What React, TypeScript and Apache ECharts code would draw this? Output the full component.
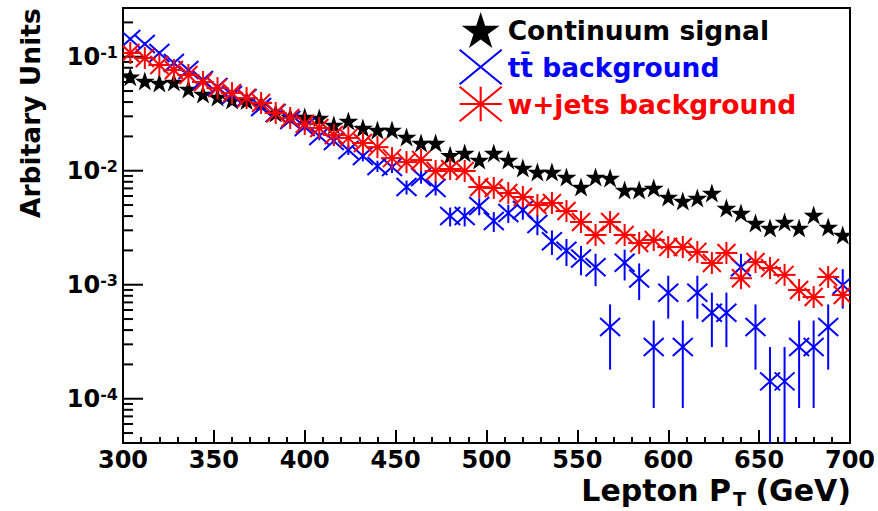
import React, { useEffect, useRef } from 'react';
import * as echarts from 'echarts';

// ---------- data ----------
const binCenters = [304, 312, 320, 328, 336, 344, 352, 360, 368, 376, 384, 392, 400, 408, 416, 424, 432, 440, 448, 456, 464, 472, 480, 488, 496, 504, 512, 520, 528, 536, 544, 552, 560, 568, 576, 584, 592, 600, 608, 616, 624, 632, 640, 648, 656, 664, 672, 680, 688, 696];

const continuumSignal = [0.0668, 0.0612, 0.0588, 0.0600, 0.0521, 0.0471, 0.0443, 0.0417, 0.0412, 0.0385, 0.0321, 0.0296, 0.0296, 0.0290, 0.0252, 0.0273, 0.0237, 0.0228, 0.0228, 0.0198, 0.0175, 0.0175, 0.0137, 0.0143, 0.0124, 0.0143, 0.0124, 0.01056, 0.00974, 0.00974, 0.00881, 0.00719, 0.00881, 0.00863, 0.00677, 0.00677, 0.00705, 0.00588, 0.00542, 0.00576, 0.00637, 0.00471, 0.00425, 0.00348, 0.00314, 0.00355, 0.00314, 0.00409, 0.00321, 0.00273];

const ttbarBackground = [0.1429, 0.1293, 0.1078, 0.0881, 0.0764, 0.0625, 0.0542, 0.0461, 0.0434, 0.0362, 0.0321, 0.0278, 0.0242, 0.0202, 0.0182, 0.0152, 0.01346, 0.0110, 0.01078, 0.00719, 0.00881, 0.00705, 0.00400, 0.00400, 0.00490, 0.00362, 0.00425, 0.00452, 0.00341, 0.00241, 0.00199, 0.00170, 0.00142, 0.000426, 0.00156, 0.001136, 0.000284, 0.000852, 0.000284, 0.000852, 0.000568, 0.000568, 0.00142, 0.000426, 0.000142, 0.000142, 0.000284, 0.000284, 0.000426, 0.000994];

const ttbarError = [0.00450, 0.00428, 0.00391, 0.00354, 0.00329, 0.00298, 0.00277, 0.00256, 0.00248, 0.00227, 0.00213, 0.00199, 0.00185, 0.00169, 0.00161, 0.00147, 0.00138, 0.00125, 0.00124, 0.00101, 0.00112, 0.00100, 0.000754, 0.000754, 0.000834, 0.000717, 0.000777, 0.000801, 0.000696, 0.000585, 0.000532, 0.000491, 0.000449, 0.000246, 0.000471, 0.000402, 0.000201, 0.000348, 0.000201, 0.000348, 0.000284, 0.000284, 0.000449, 0.000246, 0.000142, 0.000142, 0.000201, 0.000201, 0.000246, 0.000376];

const wjetsBackground = [0.1078, 0.0974, 0.0846, 0.0764, 0.0691, 0.0600, 0.0531, 0.0480, 0.0434, 0.0393, 0.0321, 0.0290, 0.0257, 0.0237, 0.0206, 0.0194, 0.0175, 0.0161, 0.0129, 0.0119, 0.0124, 0.00994, 0.01035, 0.00994, 0.00719, 0.00705, 0.00637, 0.00588, 0.00500, 0.00521, 0.00443, 0.00355, 0.00273, 0.00355, 0.00273, 0.00232, 0.00247, 0.00214, 0.00214, 0.00194, 0.00155, 0.00190, 0.00114, 0.00158, 0.00140, 0.00122, 0.000899, 0.000780, 0.00117, 0.000812];

const seriesNames = ['Continuum signal', 'tt\u0304 background', 'w+jets background'];
const xTickLabels = ['300', '350', '400', '450', '500', '550', '600', '650', '700'];
const yDecades = [-5, -4, -3, -2, -1];
const yMinorMultipliers = [2, 3, 4, 5, 6, 7, 8, 9];

const X_MIN = 300;
const X_MAX = 700;
const Y_MIN = 4.09e-5;
const Y_MAX = 0.2675;

const FONT = 'DejaVu Sans';
const BLUE = '#0000ff';
const RED = '#ff0000';
const BLACK = '#000000';

// ---------- marker geometry ----------
function starPoints(cx: number, cy: number, R: number): number[][] {
  const pts: number[][] = [];
  for (let k = 0; k < 10; k++) {
    const r = k % 2 === 0 ? R : R * 0.382;
    const a = -Math.PI / 2 + (k * Math.PI) / 5;
    pts.push([cx + r * Math.cos(a), cy + r * Math.sin(a)]);
  }
  return pts;
}
function seg(x1: number, y1: number, x2: number, y2: number, t: number): string {
  const dx = x2 - x1, dy = y2 - y1;
  const len = Math.sqrt(dx * dx + dy * dy);
  const nx = (-dy / len) * (t / 2), ny = (dx / len) * (t / 2);
  const f = (v: number) => v.toFixed(2);
  return `M${f(x1 + nx)},${f(y1 + ny)}L${f(x2 + nx)},${f(y2 + ny)}L${f(x2 - nx)},${f(y2 - ny)}L${f(x1 - nx)},${f(y1 - ny)}Z`;
}
const STAR_ICON = 'path://' + starPoints(21, 21, 21).map((p, i) => (i === 0 ? 'M' : 'L') + p[0].toFixed(2) + ',' + p[1].toFixed(2)).join('') + 'Z';
const X_ICON = 'path://' + seg(0, 0, 44, 36, 2.2) + seg(0, 36, 44, 0, 2.2);
const AST_ICON = 'path://' + seg(0, 0, 44, 36, 2.2) + seg(0, 36, 44, 0, 2.2) + seg(0, 18, 44, 18, 2.2) + seg(22, 0, 22, 36, 2.2);

function buildOption() {
  const yTicks: number[][] = [];
  yDecades.forEach((n) => {
    const base = Math.pow(10, n);
    if (base >= Y_MIN && base <= Y_MAX) yTicks.push([X_MIN, base, 1]);
    yMinorMultipliers.forEach((m) => {
      const v = m * base;
      if (v >= Y_MIN && v <= Y_MAX) yTicks.push([X_MIN, v, 0]);
    });
  });

  const line = (x1: number, y1: number, x2: number, y2: number, color: string) => ({
    type: 'line',
    shape: { x1, y1, x2, y2 },
    style: { stroke: color, lineWidth: 2 },
  });

  const titleStyle = { fontFamily: FONT, fontWeight: 'bold', fill: BLACK, textVerticalAlign: 'middle', lineHeight: 28 };

  return {
    animation: false,
    backgroundColor: '#ffffff',
    textStyle: { fontFamily: FONT },
    grid: {
      left: 123, right: 28, top: 8, bottom: 68,
      show: true, borderColor: BLACK, borderWidth: 2,
      containLabel: false, outerBoundsMode: 'none',
    },
    xAxis: {
      type: 'value', min: X_MIN, max: X_MAX, interval: 50,
      axisLine: { show: true, onZero: false, lineStyle: { color: BLACK, width: 2 } },
      axisTick: { show: true, inside: true, length: 13, lineStyle: { color: BLACK, width: 2 } },
      minorTick: { show: true, splitNumber: 5, length: 6, lineStyle: { color: BLACK, width: 2 } },
      splitLine: { show: false },
      minorSplitLine: { show: false },
      axisLabel: {
        color: BLACK, fontFamily: FONT, fontWeight: 'bold', fontSize: 24, margin: 4, lineHeight: 26,
        formatter: (v: number) => {
          const s = String(Math.round(v));
          return xTickLabels.indexOf(s) >= 0 ? s : '';
        },
      },
    },
    yAxis: {
      type: 'log', logBase: 10, min: Y_MIN, max: Y_MAX,
      axisLine: { show: true, onZero: false, lineStyle: { color: BLACK, width: 2 } },
      axisTick: { show: false },
      minorTick: { show: false },
      splitLine: { show: false },
      axisLabel: {
        margin: 5,
        showMinLabel: false, showMaxLabel: false,
        formatter: (v: number) => {
          const l = Math.log10(v);
          const n = Math.round(l);
          if (Math.abs(l - n) > 1e-6) return '';
          if (yDecades.indexOf(n) < 0) return '';
          return `{b|10}{s|${n}}`;
        },
        rich: {
          b: { fontFamily: FONT, fontWeight: 'bold', fontSize: 24, color: BLACK, lineHeight: 24, padding: [7, 0, 0, 0], verticalAlign: 'bottom' },
          s: { fontFamily: FONT, fontWeight: 'bold', fontSize: 16, color: BLACK, lineHeight: 16, verticalAlign: 'top' },
        },
      },
    },
    legend: {
      orient: 'vertical', left: 459, top: 12, padding: 0, itemGap: 1,
      itemWidth: 44, itemHeight: 36, selectedMode: false,
      textStyle: { fontFamily: FONT, fontWeight: 'bold', fontSize: 26.5 },
      data: [
        { name: seriesNames[0], icon: STAR_ICON, textStyle: { color: BLACK } },
        { name: seriesNames[1], icon: X_ICON, textStyle: { color: BLUE } },
        { name: seriesNames[2], icon: AST_ICON, textStyle: { color: RED } },
      ],
    },
    graphic: [
      {
        type: 'text', x: 30, y: 218, rotation: Math.PI / 2, silent: true,
        style: { text: 'Arbitary Units', fontFamily: FONT, fontWeight: 'bold', fontSize: 26.5, fill: BLACK, textAlign: 'left', textVerticalAlign: 'middle' },
      },
      {
        type: 'text', x: 731, y: 490, silent: true,
        style: { ...titleStyle, text: 'Lepton P', fontSize: 30, textAlign: 'right' },
      },
      {
        type: 'text', x: 733, y: 499, silent: true,
        style: { ...titleStyle, text: 'T', fontSize: 19, lineHeight: 16, textAlign: 'left' },
      },
      {
        type: 'text', x: 851, y: 490, silent: true,
        style: { ...titleStyle, text: '(GeV)', fontSize: 30, textAlign: 'right' },
      },
    ],
    series: [
      {
        name: 'yTicks', type: 'custom', silent: true, clip: false, z: 1,
        data: yTicks, encode: { x: 0, y: 1 },
        renderItem: (_p: any, api: any) => {
          const c = api.coord([api.value(0), api.value(1)]);
          const len = api.value(2) === 1 ? 20 : 10;
          return line(c[0], c[1], c[0] + len, c[1], BLACK);
        },
      },
      {
        name: seriesNames[0], type: 'custom', clip: true, z: 2,
        itemStyle: { color: BLACK },
        data: binCenters.map((x, i) => [x, continuumSignal[i]]),
        encode: { x: 0, y: 1 },
        renderItem: (_p: any, api: any) => {
          const c = api.coord([api.value(0), api.value(1)]);
          return { type: 'polygon', shape: { points: starPoints(c[0], c[1] + 1, 10.5) }, style: { fill: BLACK } };
        },
      },
      {
        name: seriesNames[1], type: 'custom', clip: true, z: 3,
        itemStyle: { color: BLUE },
        data: binCenters.map((x, i) => [x, ttbarBackground[i], ttbarError[i]]),
        encode: { x: 0, y: 1 },
        renderItem: (_p: any, api: any) => {
          const x = api.value(0), y = api.value(1), e = api.value(2);
          const c = api.coord([x, y]);
          const top = api.coord([x, Math.min(y + e, Y_MAX)]);
          const bot = api.coord([x, Math.max(y - e, Y_MIN)]);
          return {
            type: 'group',
            children: [
              line(c[0], top[1], c[0], bot[1], BLUE),
              line(c[0] - 10, c[1] - 9, c[0] + 10, c[1] + 9, BLUE),
              line(c[0] - 10, c[1] + 9, c[0] + 10, c[1] - 9, BLUE),
            ],
          };
        },
      },
      {
        name: seriesNames[2], type: 'custom', clip: true, z: 4,
        itemStyle: { color: RED },
        data: binCenters.map((x, i) => [x, wjetsBackground[i]]),
        encode: { x: 0, y: 1 },
        renderItem: (_p: any, api: any) => {
          const c = api.coord([api.value(0), api.value(1)]);
          return {
            type: 'group',
            children: [
              line(c[0] - 11, c[1], c[0] + 11, c[1], RED),
              line(c[0], c[1] - 11, c[0], c[1] + 11, RED),
              line(c[0] - 9, c[1] - 9, c[0] + 9, c[1] + 9, RED),
              line(c[0] - 9, c[1] + 9, c[0] + 9, c[1] - 9, RED),
            ],
          };
        },
      },
    ],
  };
}

export default function App() {
  const ref = useRef<HTMLDivElement>(null);
  useEffect(() => {
    if (!ref.current) return;
    const chart = echarts.init(ref.current, undefined, { renderer: 'svg' });
    chart.setOption(buildOption() as any);
    return () => chart.dispose();
  }, []);
  return (
    <div
      ref={ref}
      style={{ position: 'fixed', left: 0, top: 0, width: 878, height: 511, background: '#fff' }}
    />
  );
}
